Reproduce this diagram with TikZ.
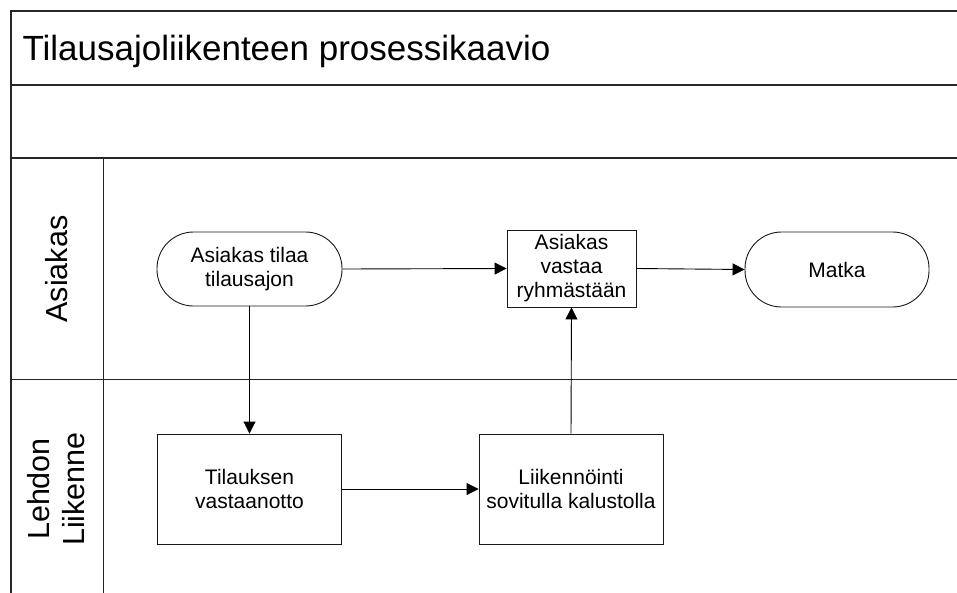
\documentclass[tikz,border=0pt]{standalone}
\usepackage{fontspec}
\setmainfont{Liberation Sans}
\usetikzlibrary{arrows.meta}
\begin{document}
\begin{tikzpicture}[x=1pt,y=-1pt,
  frameline/.style={draw=black!85,line width=1.6pt},
  laneline/.style={draw=black!85,line width=0.9pt},
  stepbox/.style={draw=black!90,line width=0.9pt,align=center,inner sep=0pt,
    font=\fontsize{21}{24}\selectfont},
  endbox/.style={stepbox,rounded corners=36.5pt},
  flow/.style={draw=black,line width=0.9pt,-{Triangle[length=12pt,width=12pt]}},
  lanelabel/.style={rotate=90,align=center,font=\fontsize{30.5}{35}\selectfont}]
\useasboundingbox (0,0) rectangle (957,592);
\clip (0,0) rectangle (957,592);

% pool frame, title row and header row
\draw[frameline] (957,11) -- (11,11) -- (11,600);
\draw[frameline] (11,85) -- (957,85);
\draw[frameline] (11,158) -- (957,158);
% lane header column and lane divider
\draw[laneline] (103,158) -- (103,600);
\draw[laneline] (11,379) -- (957,379);

\node[anchor=base west,font=\fontsize{35}{40}\selectfont] (title) at (19,60)
  {Tilausajoliikenteen prosessikaavio};

\node[lanelabel] (lane1) at (57,269) {Asiakas};
\node[lanelabel] (lane2) at (56,489) {Lehdon\\Liikenne};

% process steps
\node[endbox,minimum width=185pt,minimum height=74pt] (order) at (249.5,269)
  {Asiakas tilaa\\tilausajon};
\node[stepbox,minimum width=129pt,minimum height=77pt] (reply) at (571.5,268.5)
  {Asiakas\\vastaa\\ryhmästään};
\node[endbox,minimum width=184pt,minimum height=75pt] (trip) at (837,269.5)
  {Matka};
\node[stepbox,minimum width=184pt,minimum height=110pt] (receive) at (249.5,489)
  {Tilauksen\\vastaanotto};
\node[stepbox,minimum width=184pt,minimum height=110pt] (operate) at (571,489)
  {Liikennöinti\\sovitulla kalustolla};

% flow connectors
\draw[flow] (order.east) -- (reply.west);
\draw[flow] (reply.east) -- (trip.west);
\draw[flow] (order.south) -- (receive.north);
\draw[flow] (receive.east) -- (operate.west);
\draw[flow] (operate.north) -- (reply.south);
\end{tikzpicture}
\end{document}
